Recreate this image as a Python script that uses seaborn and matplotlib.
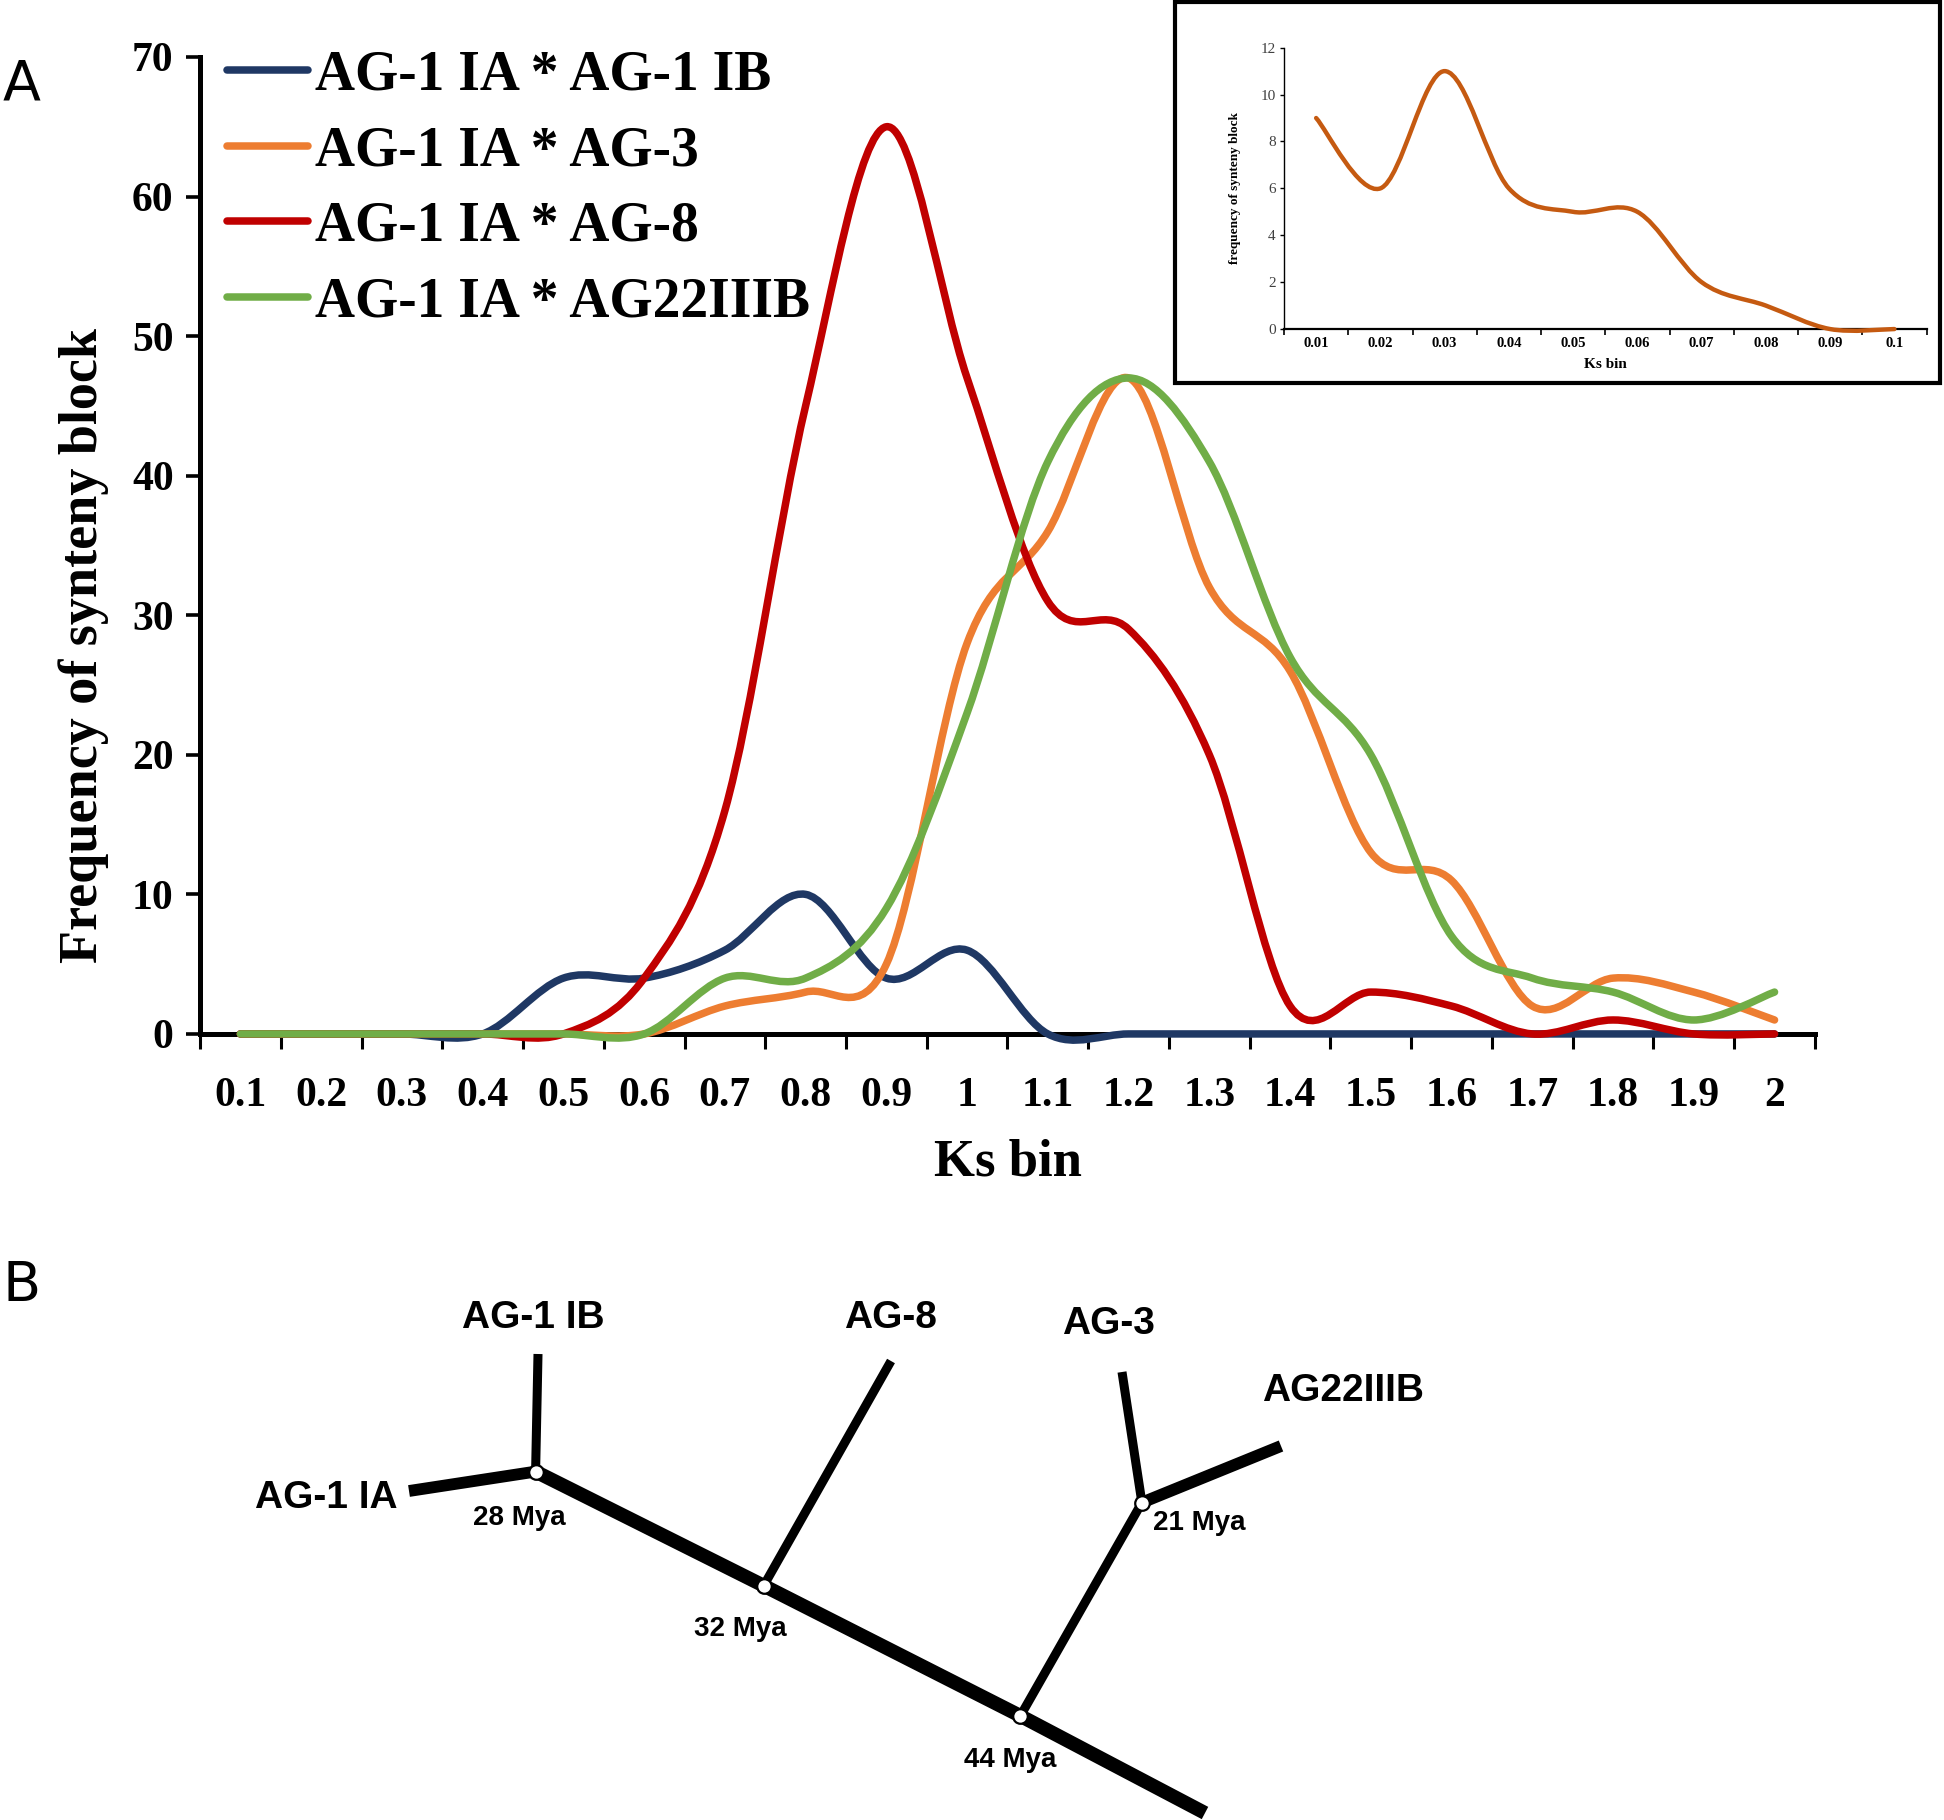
import numpy as np
import matplotlib
matplotlib.use("Agg")
import matplotlib.pyplot as plt
import seaborn as sns
from matplotlib.path import Path
from matplotlib.patches import PathPatch, Rectangle
from matplotlib.lines import Line2D

# ---- data ----
ks_bins = ["0.1", "0.2", "0.3", "0.4", "0.5", "0.6", "0.7", "0.8", "0.9", "1",
           "1.1", "1.2", "1.3", "1.4", "1.5", "1.6", "1.7", "1.8", "1.9", "2"]
ag1ib = [0, 0, 0, 0, 4, 4, 6, 10, 4, 6, 0, 0, 0, 0, 0, 0, 0, 0, 0, 0]
ag3 = [0, 0, 0, 0, 0, 0, 2, 3, 5, 28, 36, 47, 32, 26, 13, 11, 2, 4, 3, 1]
ag8 = [0, 0, 0, 0, 0, 4, 16, 45, 65, 47, 31, 29, 20, 2, 3, 2, 0, 1, 0, 0]
ag22 = [0, 0, 0, 0, 0, 0, 4, 4, 9, 23, 41, 47, 41, 27, 20, 7, 4, 3, 1, 3]
series_names = ["AG-1 IA * AG-1 IB", "AG-1 IA * AG-3", "AG-1 IA * AG-8", "AG-1 IA * AG22IIIB"]
series_colors = ["#1F3864", "#ED7D31", "#C00000", "#70AD47"]

inset_bins = ["0.01", "0.02", "0.03", "0.04", "0.05", "0.06", "0.07", "0.08", "0.09", "0.1"]
inset_vals = [9, 6, 11, 6, 5, 5, 2, 1, 0, 0]

# tree (panel B) in figure pixels
node_x = [535.6, 763.7, 1020.4, 1141.9]
node_y = [1471.6, 1585.7, 1715.9, 1502.6]
node_ages = ["28 Mya", "32 Mya", "44 Mya", "21 Mya"]
age_x = [519, 740, 1010, 1199]
age_y = [1518, 1629, 1760, 1523]
tip_names = ["AG-1 IA", "AG-1 IB", "AG-8", "AG-3", "AG22IIIB"]
tip_x = [409, 538, 891, 1122, 1281]
tip_y = [1491, 1354, 1361, 1372, 1446]
tip_lab_x = [326, 533, 890, 1108, 1343]
tip_lab_y = [1498, 1318, 1318, 1324, 1391]


def smooth_path(xs, ys):
    pts = np.column_stack([xs, ys]).astype(float)
    n = len(pts)
    verts = [pts[0]]
    codes = [Path.MOVETO]
    for i in range(n - 1):
        p0 = pts[max(i - 1, 0)]
        p1 = pts[i]
        p2 = pts[i + 1]
        p3 = pts[min(i + 2, n - 1)]
        verts += [p1 + (p2 - p0) / 6, p2 - (p3 - p1) / 6, p2]
        codes += [Path.CURVE4] * 3
    return Path(verts, codes)


sns.set_theme(style="ticks")
plt.rcParams['font.family'] = ['Liberation Serif', 'DejaVu Serif']
plt.rcParams['font.weight'] = 'bold'
for key in ['text.color', 'axes.labelcolor', 'xtick.color', 'ytick.color']:
    plt.rcParams[key] = 'black'

fig = plt.figure(figsize=(19.44, 18.2), dpi=100)

# ---- panel A main chart ----
ax = fig.add_axes([0.1029, 0.4319, 0.8307, 0.5368])
x = np.arange(len(ks_bins))
for vals, col in zip([ag1ib, ag3, ag8, ag22], series_colors):
    ax.add_patch(PathPatch(smooth_path(x, vals), fill=False, edgecolor=col,
                           lw=5.4, capstyle='round', joinstyle='round',
                           zorder=5, clip_on=False))
ax.set_xlim(-0.5, len(ks_bins) - 0.5)
ax.set_ylim(0, 70)
ax.set_xticks(np.arange(-0.5, len(ks_bins), 1))
ax.set_xticks(x, minor=True)
ax.set_xticklabels(ks_bins, minor=True)
ax.tick_params(axis='x', which='major', length=11, width=2.2, direction='out',
               labelbottom=False, color='black')
ax.tick_params(axis='x', which='minor', length=0, pad=31, labelsize=30)
ax.set_yticks(range(0, 71, 10))
ax.tick_params(axis='y', length=10, width=2.6, direction='out', pad=9,
               labelsize=30, color='black')
sns.despine(ax=ax)
for sp in ['left', 'bottom']:
    ax.spines[sp].set_linewidth(3.6)
    ax.spines[sp].set_color('black')
ax.set_facecolor('white')

handles = [Line2D([0], [0], color=c, lw=5.4, solid_capstyle='round') for c in series_colors]
fig.legend(handles, series_names, loc='upper left', bbox_to_anchor=(0.117, 0.973),
           frameon=False, fontsize=40, handlelength=1.45, handletextpad=0.12,
           labelspacing=0.43, borderpad=0, borderaxespad=0)

fig.text(84 / 1944, 1 - 645 / 1820, "Frequency of synteny block", rotation=90,
         ha='center', va='center', fontsize=39)
fig.text(1008 / 1944, 1 - 1162 / 1820, "Ks bin", ha='center', va='center', fontsize=38)

# ---- inset ----
fig.patches.append(Rectangle((1175 / 1944, 1 - 383 / 1820), (1940 - 1175) / 1944, 381 / 1820,
                             transform=fig.transFigure, fill=True, facecolor='white',
                             edgecolor='black', lw=3, zorder=1))
axi = fig.add_axes([0.6605, 0.8192, 0.3305, 0.1546])
axi.set_zorder(3)
xi = np.arange(len(inset_bins))
axi.add_patch(PathPatch(smooth_path(xi, inset_vals), fill=False, edgecolor="#C55A11",
                        lw=3.2, capstyle='round', zorder=5, clip_on=False))
axi.set_xlim(-0.5, len(inset_bins) - 0.5)
axi.set_ylim(0, 12)
axi.set_xticks(np.arange(-0.5, len(inset_bins), 1))
axi.set_xticks(xi, minor=True)
axi.set_xticklabels(inset_bins, minor=True)
axi.tick_params(axis='x', which='major', length=4, width=1.2, direction='out',
                labelbottom=False, color='black')
axi.tick_params(axis='x', which='minor', length=0, pad=6, labelsize=10.5)
axi.set_yticks(range(0, 13, 2))
axi.set_yticklabels([str(v) for v in range(0, 13, 2)], fontweight='normal', color='#404040')
axi.tick_params(axis='y', length=3, width=1, direction='out', pad=3, labelsize=11, color='black')
sns.despine(ax=axi)
axi.spines['left'].set_linewidth(1)
axi.spines['bottom'].set_linewidth(1.6)
for sp in ['left', 'bottom']:
    axi.spines[sp].set_color('black')
axi.set_facecolor('white')
fig.text(1235 / 1944, 1 - 188 / 1820, "frequency of synteny block", rotation=90,
         ha='center', va='center', fontsize=9.5)
fig.text(1605 / 1944, 1 - 365 / 1820, "Ks bin", ha='center', va='center', fontsize=11)

# ---- panel B tree ----
axt = fig.add_axes([0, 0, 1, 1], zorder=0)
axt.set_xlim(0, 1944)
axt.set_ylim(1820, 0)
axt.axis('off')
axt.patch.set_alpha(0)

# trunk: 28 -> 32 -> 44 -> root
axt.plot([node_x[0], node_x[1], node_x[2], 1205], [node_y[0], node_y[1], node_y[2], 1813],
         color='black', lw=10, solid_capstyle='butt', solid_joinstyle='miter')
branches = [(tip_x[0], tip_y[0], node_x[0], node_y[0], 8.5),
            (node_x[0], node_y[0], tip_x[1], tip_y[1], 6.5),
            (node_x[1], node_y[1], tip_x[2], tip_y[2], 6.5),
            (node_x[2], node_y[2], node_x[3], node_y[3], 6.5),
            (node_x[3], node_y[3], tip_x[3], tip_y[3], 6.5),
            (node_x[3], node_y[3], tip_x[4], tip_y[4], 8.5)]
for x0, y0, x1, y1, lw in branches:
    axt.plot([x0, x1], [y0, y1], color='black', lw=lw, solid_capstyle='butt')
sns.scatterplot(x=node_x, y=node_y, ax=axt, color='white', edgecolor='black',
                s=110, linewidth=1.6, zorder=6, legend=False)

tree_font = ['Liberation Sans Narrow', 'Liberation Sans', 'DejaVu Sans']
for name, lx, ly in zip(tip_names, tip_lab_x, tip_lab_y):
    axt.text(lx, ly, name, ha='center', va='center', fontsize=28,
             family=tree_font, fontweight='bold')
for age, lx, ly in zip(node_ages, age_x, age_y):
    axt.text(lx, ly, age, ha='center', va='center', fontsize=20,
             family=tree_font, fontweight='bold')

fig.text(22 / 1944, 1 - 84 / 1820, "A", ha='center', va='center', fontsize=40,
         family=['DejaVu Sans'], fontweight='normal')
fig.text(22 / 1944, 1 - 1286 / 1820, "B", ha='center', va='center', fontsize=40,
         family=['DejaVu Sans'], fontweight='normal')

fig.savefig("out.png", dpi=100, facecolor='white')
